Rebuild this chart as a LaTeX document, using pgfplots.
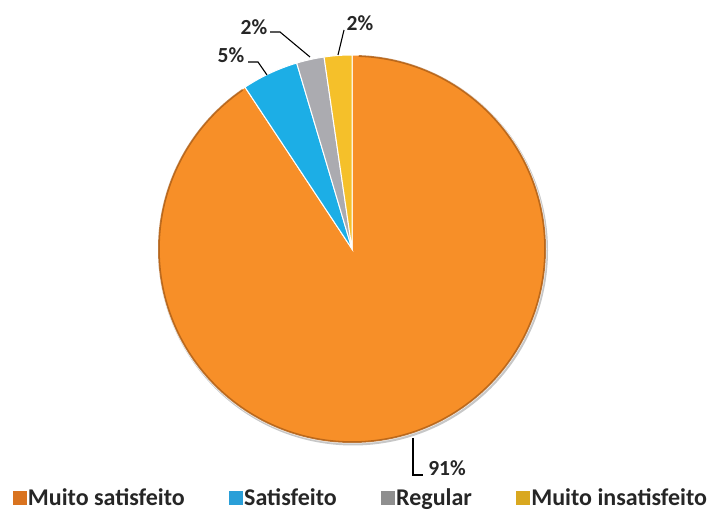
\documentclass[border=0pt]{standalone}
\usepackage{pgfplots}
\pgfplotsset{compat=1.18}
\usepackage{pgfplotstable}
\usepackage{fontspec}
\setmainfont{Carlito}
\definecolor{cOrange}{HTML}{F78F28}
\definecolor{cOrangeDk}{HTML}{A85A14}
\definecolor{cBlue}{HTML}{1CAEE6}
\definecolor{cGray}{HTML}{ABABB0}
\definecolor{cYellow}{HTML}{F5C02A}
\definecolor{lOrange}{HTML}{D9731F}
\definecolor{lBlue}{HTML}{2A9FD8}
\definecolor{lGray}{HTML}{8F8F8F}
\definecolor{lYellow}{HTML}{D9A820}
\definecolor{txt}{HTML}{262626}

\pgfplotstableread{
label value
Muito 90.7
Satisfeito 4.7
Regular 2.3
Insatisfeito 2.3
}\piedata

\begin{document}
\begin{tikzpicture}
\pgfplotstablegetelem{0}{value}\of\piedata \let\vA\pgfplotsretval
\pgfplotstablegetelem{1}{value}\of\piedata \let\vB\pgfplotsretval
\pgfplotstablegetelem{2}{value}\of\piedata \let\vC\pgfplotsretval
\pgfplotstablegetelem{3}{value}\of\piedata \let\vD\pgfplotsretval
\pgfmathsetmacro\aA{90-3.6*\vA}
\pgfmathsetmacro\aB{\aA-3.6*\vB}
\pgfmathsetmacro\aC{\aB-3.6*\vC}
\pgfmathsetmacro\aD{\aC-3.6*\vD}
\def\R{194pt}
\begin{axis}[
  x=1pt, y=1pt,
  xmin=0, xmax=712, ymin=0, ymax=516,
  hide axis,
  clip=false,
  legend columns=4,
  legend style={at={(axis cs:13,18)}, anchor=west, draw=none, fill=none,
    inner sep=0pt, outer sep=0pt,
    font=\fontsize{24}{27}\selectfont\bfseries\color{txt},
    /tikz/every odd column/.append style={column sep=0pt},
    /tikz/every even column/.append style={column sep=43pt},
    nodes={inner sep=1.5pt}},
]
% full canvas
\path (axis cs:0,0) rectangle (axis cs:712,516);
% shadow
\fill[black, opacity=0.22] (axis cs:353,265.5) circle[radius=195pt];
% slices
\fill[cOrange, draw=white, line width=1pt] (axis cs:352,267) -- ++(90:\R) arc[start angle=90, end angle=\aA, radius=\R] -- cycle;
\fill[cBlue, draw=white, line width=1pt] (axis cs:352,267) -- ++(\aA:\R) arc[start angle=\aA, end angle=\aB, radius=\R] -- cycle;
\fill[cGray, draw=white, line width=1pt] (axis cs:352,267) -- ++(\aB:\R) arc[start angle=\aB, end angle=\aC, radius=\R] -- cycle;
\fill[cYellow, draw=white, line width=1pt] (axis cs:352,267) -- ++(\aC:\R) arc[start angle=\aC, end angle=\aD, radius=\R] -- cycle;
% rim
\draw[cOrangeDk, line width=1.8pt, opacity=0.75] (axis cs:352,267) ++(88:\R-0.9pt) arc[start angle=88, end angle=\aA+1, radius=\R-0.9pt];
% labels
\node[font=\fontsize{21.5}{24}\selectfont\bfseries, text=txt] at (axis cs:447,48) {91\%};
\draw[black, line width=1.1pt] (axis cs:413,78) -- (axis cs:413,41) -- (axis cs:423,41);
\node[font=\fontsize{21.5}{24}\selectfont\bfseries, text=txt] at (axis cs:231,461) {5\%};
\draw[black, line width=1.1pt] (axis cs:248,454) -- (axis cs:258,454) -- (axis cs:267,441);
\node[font=\fontsize{21.5}{24}\selectfont\bfseries, text=txt] at (axis cs:254,489) {2\%};
\draw[black, line width=1.1pt] (axis cs:270,484) -- (axis cs:280,484) -- (axis cs:310,459);
\node[font=\fontsize{21.5}{24}\selectfont\bfseries, text=txt] at (axis cs:360,493) {2\%};
\draw[black, line width=1.1pt] (axis cs:344,486) -- (axis cs:338,461);
% legend
\addlegendimage{legend image code/.code={\fill[lOrange] (0pt,-6.5pt) rectangle (13pt,6.5pt);}}
\addlegendentry{Muito satisfeito}
\addlegendimage{legend image code/.code={\fill[lBlue] (0pt,-6.5pt) rectangle (13pt,6.5pt);}}
\addlegendentry{Satisfeito}
\addlegendimage{legend image code/.code={\fill[lGray] (0pt,-6.5pt) rectangle (13pt,6.5pt);}}
\addlegendentry{Regular}
\addlegendimage{legend image code/.code={\fill[lYellow] (0pt,-6.5pt) rectangle (13pt,6.5pt);}}
\addlegendentry{Muito insatisfeito}
\end{axis}
\end{tikzpicture}
\end{document}
